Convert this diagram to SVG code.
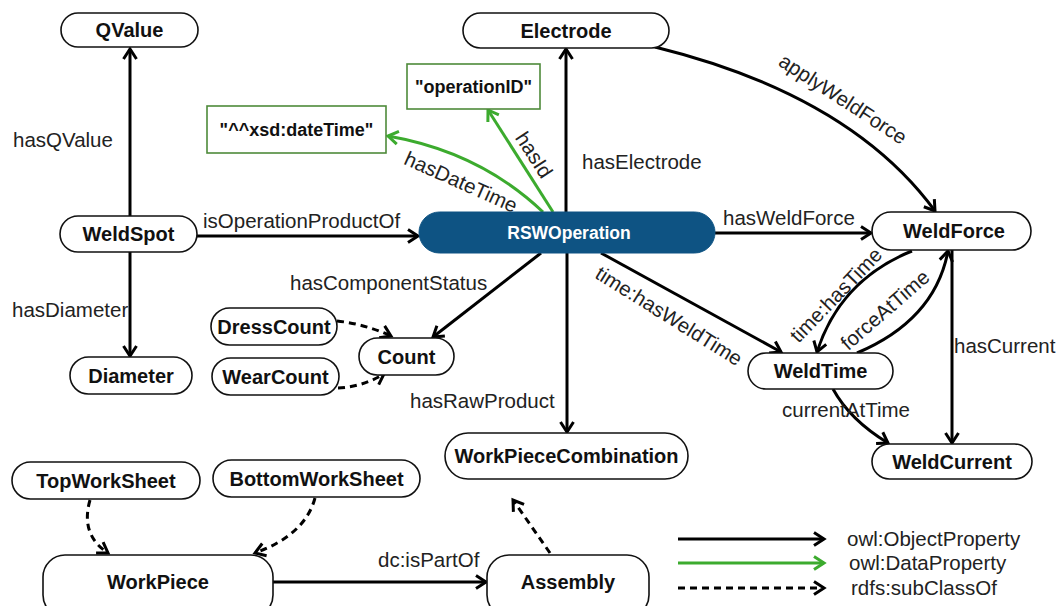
<svg xmlns="http://www.w3.org/2000/svg" width="1062" height="606" viewBox="0 0 1062 606">
<style>
.n{fill:#fff;stroke:#111;stroke-width:1.6}
.op{fill:#0e5383;stroke:#0e5383}
.lit{fill:#fff;stroke:#4e8a3a;stroke-width:1.6}
.nt{font-family:"Liberation Sans",Arial,sans-serif;font-weight:bold;font-size:20px;fill:#111;text-anchor:middle}
.lt{font-family:"Liberation Sans",Arial,sans-serif;font-weight:bold;font-size:18px;fill:#111;text-anchor:middle}
.el{font-family:"Liberation Sans",Arial,sans-serif;font-size:20.5px;fill:#222}
.c{fill:none;stroke:#000;stroke-width:3}
.g{fill:none;stroke:#3cab2e;stroke-width:3}
.d{fill:none;stroke:#000;stroke-width:3;stroke-dasharray:7 5}
</style>
<defs>
<marker id="a" markerUnits="userSpaceOnUse" markerWidth="16" markerHeight="16" refX="12" refY="8" orient="auto" overflow="visible">
<path d="M2,1.5 L12,8 L2,14.5" fill="none" stroke="#000" stroke-width="3" stroke-dasharray="none"/>
</marker>
<marker id="ag" markerUnits="userSpaceOnUse" markerWidth="16" markerHeight="16" refX="12" refY="8" orient="auto" overflow="visible">
<path d="M2,1.5 L12,8 L2,14.5" fill="none" stroke="#3cab2e" stroke-width="3" stroke-dasharray="none"/>
</marker>
</defs>

<g id="connectors">
<path class="c" d="M130,216 L130,49" marker-end="url(#a)"/>
<path class="c" d="M130,252 L130,356" marker-end="url(#a)"/>
<path class="c" d="M197,236 L418,236" marker-end="url(#a)"/>
<path class="c" d="M566,212 L566,49" marker-end="url(#a)"/>
<path class="g" d="M553,212 L488,110" marker-end="url(#ag)"/>
<path class="g" d="M543,212 Q480,152 388,136" marker-end="url(#ag)"/>
<path class="c" d="M655,47 Q850,95 935,211" marker-end="url(#a)"/>
<path class="c" d="M715,233 L871,233" marker-end="url(#a)"/>
<path class="c" d="M601,253 L781,352" marker-end="url(#a)"/>
<path class="c" d="M912,251 Q840,280 817,352" marker-end="url(#a)"/>
<path class="c" d="M857,353 Q935,320 948,251" marker-end="url(#a)"/>
<path class="c" d="M952,250 L952,443" marker-end="url(#a)"/>
<path class="c" d="M833,389 Q850,420 888,443" marker-end="url(#a)"/>
<path class="c" d="M541,253 L433,337" marker-end="url(#a)"/>
<path class="c" d="M567,253 L567,432" marker-end="url(#a)"/>
<path class="d" d="M337,321 Q365,324 391,336" marker-end="url(#a)"/>
<path class="d" d="M338,388 Q362,387 384,374" marker-end="url(#a)"/>
<path class="d" d="M90,500 Q80,535 108,553" marker-end="url(#a)"/>
<path class="d" d="M315,498 Q305,535 255,553" marker-end="url(#a)"/>
<path class="c" d="M273,582 L486,582" marker-end="url(#a)"/>
<path class="d" d="M550,553 L513,500" marker-end="url(#a)"/>

<text class="el" x="13" y="147">hasQValue</text>
<text class="el" x="12" y="317">hasDiameter</text>
<text class="el" x="203" y="228">isOperationProductOf</text>
<text class="el" x="582" y="169">hasElectrode</text>
<text class="el" text-anchor="middle" transform="translate(534,155) rotate(57)" y="7">hasId</text>
<text class="el" text-anchor="middle" transform="translate(461,182) rotate(24)" y="7">hasDateTime</text>
<text class="el" text-anchor="middle" transform="translate(843,99) rotate(33)" y="7">applyWeldForce</text>
<text class="el" x="723" y="225">hasWeldForce</text>
<text class="el" text-anchor="middle" transform="translate(669,316) rotate(32)" y="7">time:hasWeldTime</text>
<text class="el" text-anchor="middle" transform="translate(836,295) rotate(-46)" y="7">time:hasTime</text>
<text class="el" text-anchor="middle" transform="translate(885,310) rotate(-41)" y="7">forceAtTime</text>
<text class="el" x="954" y="353">hasCurrent</text>
<text class="el" x="782" y="417">currentAtTime</text>
<text class="el" x="290" y="290">hasComponentStatus</text>
<text class="el" x="410" y="408">hasRawProduct</text>
<text class="el" x="378" y="567">dc:isPartOf</text>
</g>

<g id="QValue"><rect class="n" x="61" y="13" width="137" height="34" rx="17"/><text class="nt" x="129.5" y="37">QValue</text></g>
<g id="Electrode"><rect class="n" x="463" y="13" width="206" height="35" rx="17.5"/><text class="nt" x="566" y="38">Electrode</text></g>
<g id="operationID"><rect class="lit" x="407" y="64" width="133" height="45"/><text class="lt" x="473.5" y="93">"operationID"</text></g>
<g id="dateTime"><rect class="lit" x="207" y="106" width="179" height="47"/><text class="lt" x="296.5" y="136">"^^xsd:dateTime"</text></g>
<g id="WeldSpot"><rect class="n" x="60" y="216" width="137" height="36" rx="18"/><text class="nt" x="128.5" y="241">WeldSpot</text></g>
<g id="RSWOperation"><rect class="op" x="419" y="212" width="296" height="41" rx="20.5"/><text class="nt" style="fill:#fff;font-size:17.5px" x="569" y="239">RSWOperation</text></g>
<g id="WeldForce"><rect class="n" x="872" y="212" width="159" height="38" rx="19"/><text class="nt" x="954" y="238">WeldForce</text></g>
<g id="DressCount"><rect class="n" x="211" y="308" width="126" height="37" rx="18.5"/><text class="nt" x="274" y="334">DressCount</text></g>
<g id="WearCount"><rect class="n" x="212" y="358" width="127" height="37" rx="18.5"/><text class="nt" x="275.5" y="384">WearCount</text></g>
<g id="Count"><rect class="n" x="359" y="338" width="95" height="37" rx="18.5"/><text class="nt" x="406.5" y="364">Count</text></g>
<g id="Diameter"><rect class="n" x="70" y="357" width="122" height="37" rx="18.5"/><text class="nt" x="131" y="383">Diameter</text></g>
<g id="WeldTime"><rect class="n" x="748" y="353" width="145" height="36" rx="18"/><text class="nt" x="820.5" y="378">WeldTime</text></g>
<g id="WeldCurrent"><rect class="n" x="872" y="444" width="160" height="35" rx="17.5"/><text class="nt" x="952" y="469">WeldCurrent</text></g>
<g id="WorkPieceCombination"><rect class="n" x="445" y="433" width="243" height="46" rx="23"/><text class="nt" x="566.5" y="463">WorkPieceCombination</text></g>
<g id="TopWorkSheet"><rect class="n" x="12" y="462" width="188" height="37" rx="18.5"/><text class="nt" x="106" y="488">TopWorkSheet</text></g>
<g id="BottomWorkSheet"><rect class="n" x="213" y="460" width="207" height="37" rx="18.5"/><text class="nt" x="316.5" y="486">BottomWorkSheet</text></g>
<g id="WorkPiece"><rect class="n" x="43" y="555" width="230" height="62" rx="22"/><text class="nt" x="158" y="589">WorkPiece</text></g>
<g id="Assembly"><rect class="n" x="487" y="555" width="162" height="62" rx="22"/><text class="nt" x="568" y="589">Assembly</text></g>

<g id="legend">
<path class="c" d="M678,539 L824,539" marker-end="url(#a)"/>
<path class="g" d="M678,563 L824,563" marker-end="url(#ag)"/>
<path class="d" d="M678,588 L824,588" marker-end="url(#a)"/>
<text class="el" x="847" y="546">owl:ObjectProperty</text>
<text class="el" x="849" y="570">owl:DataProperty</text>
<text class="el" x="851" y="595">rdfs:subClassOf</text>
</g>
</svg>
